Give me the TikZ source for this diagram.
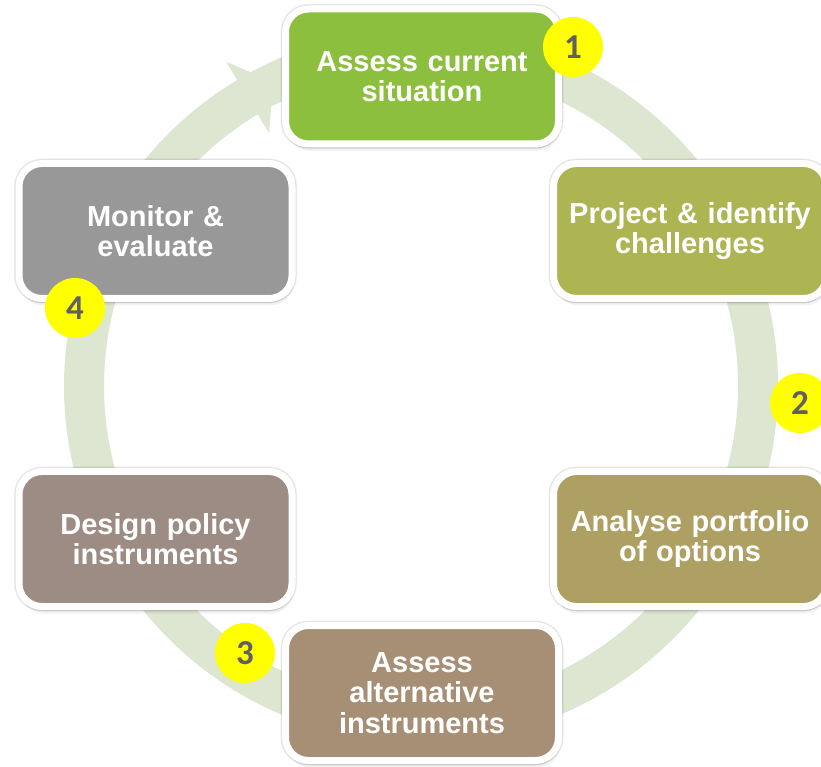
\documentclass[tikz,border=0pt]{standalone}
\usepackage{fontspec}
\setmainfont{Liberation Sans}
\newfontfamily\badgefont{Carlito}
\usetikzlibrary{shadows,calc}

\definecolor{ringgreen}{HTML}{DCE6D0}
\definecolor{stageA}{HTML}{8DBF3F}
\definecolor{stageB}{HTML}{ADB553}
\definecolor{stageC}{HTML}{AE9F63}
\definecolor{stageD}{HTML}{A78F75}
\definecolor{stageE}{HTML}{9C8C84}
\definecolor{stageF}{HTML}{989898}
\definecolor{numgray}{HTML}{606060}
\definecolor{badgeyellow}{HTML}{FFFF00}

\begin{document}
\begin{tikzpicture}[x=1pt,y=1pt,
  stage/.style={draw=white, line width=7pt, rounded corners=23pt,
    minimum width=273pt, minimum height=135pt, text width=262pt,
    align=center, text=white, inner sep=0pt,
    font=\bfseries\fontsize{29}{30.5}\selectfont,
    drop shadow={opacity=0.10, shadow xshift=1.5pt, shadow yshift=-7pt},
    drop shadow={opacity=0.16, shadow xshift=0.5pt, shadow yshift=-4.5pt},
    preaction={draw=black, draw opacity=0.07, line width=10pt},
    preaction={draw=black, draw opacity=0.06, line width=8.5pt}},
  badge/.style={circle, fill=badgeyellow, minimum size=60pt, inner sep=0pt,
    text=numgray, font=\badgefont\bfseries\fontsize{35}{35}\selectfont}]
\useasboundingbox (0,0) rectangle (821,766);
\clip (0,0) rectangle (821,766);

% circular cycle arrow behind the stages
\coordinate (c) at (421,380);
\draw[ringgreen, line width=40pt] ($(c)+(121:337)$) arc[start angle=121, end angle=-260, radius=337];
\coordinate (headout) at ($(c)+(121:378)$);
\coordinate (headin) at ($(c)+(121:295)$);
\coordinate (headtip) at ($(c)+(121:337)+(31:30)$);
\fill[ringgreen] (headout) -- (headtip) -- (headin) -- cycle;

% stages
\node[stage, fill=stageA] (s1) at (422,689.5) {Assess current\\situation};
\node[stage, fill=stageB] (s2) at (690,535) {Project \& identify\\challenges};
\node[stage, fill=stageC] (s3) at (690,227) {Analyse portfolio\\of options};
\node[stage, fill=stageD] (s4) at (422,73) {Assess\\alternative\\instruments};
\node[stage, fill=stageE] (s5) at (155.5,227) {Design policy\\instruments};
\node[stage, fill=stageF] (s6) at (155.5,535) {Monitor \&\\evaluate};

% numbered badges
\node[badge] (b1) at (573,719) {1};
\node[badge] (b2) at (800,363) {2};
\node[badge] (b3) at (245,113) {3};
\node[badge] (b4) at (75,458) {4};
\end{tikzpicture}
\end{document}
